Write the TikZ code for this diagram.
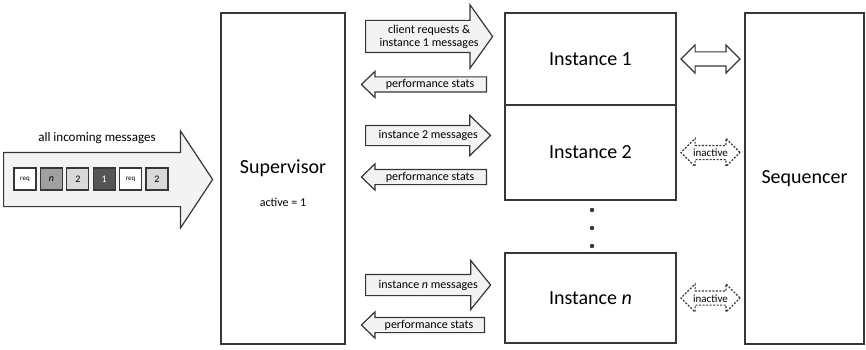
\documentclass[tikz,border=0pt]{standalone}
\usepackage{fontspec}
\setmainfont{Carlito}
\usetikzlibrary{shapes.arrows, positioning, calc}
\definecolor{edge}{RGB}{55,55,55}
\definecolor{arrfill}{RGB}{243,243,243}
\definecolor{msglight}{RGB}{217,217,217}
\definecolor{msgmid}{RGB}{160,160,160}
\definecolor{msgdark}{RGB}{85,85,85}

\begin{document}
\begin{tikzpicture}[x=1pt,y=-1pt,
  box/.style={rectangle,draw=edge,line width=1.3pt,inner sep=0pt},
  big/.style={font=\fontsize{20}{24}\selectfont},
  small/.style={font=\fontsize{12}{13}\selectfont,align=center,inner sep=0pt},
  blk/.style={single arrow,draw=edge,fill=arrfill,line width=1.2pt,inner xsep=0pt,anchor=tail},
  blkl/.style={blk,shape border rotate=180},
  dbl/.style={double arrow,draw=edge,fill=white,line width=1.1pt,inner xsep=0pt,
              inner ysep=2.5pt,text height=8pt,text depth=0pt,
              minimum height=59pt,double arrow head extend=7pt,
              font=\fontsize{11}{11}\selectfont},
  idle/.style={dbl,dash pattern=on 2pt off 1.5pt},
  msg/.style={rectangle,draw=edge,line width=1.2pt,minimum size=22pt,inner sep=0pt,
              font=\fontsize{10}{10}\selectfont},
  mreq/.style={fill=white,font=\fontsize{7}{7}\selectfont},
  mmid/.style={fill=msgmid},
  mlight/.style={fill=msglight},
  mdark/.style={fill=msgdark,text=white},
  dot/.style={circle,fill=edge,inner sep=0pt,minimum size=4.5pt}
]
\useasboundingbox (0,0) rectangle (866,350);

% main blocks
\node[box,minimum width=124pt,minimum height=331pt] (sup) at (283,178.5) {};
\node[big] (suplbl) at (283,168) {Supervisor};
\node[small] (act) at (283,202) {active = 1};
\node[box,big,minimum width=171pt,minimum height=92pt] (inst1) at (590.5,59) {Instance 1};
\node[box,big,minimum width=171pt,minimum height=95pt] (inst2) at (590.5,152.5) {Instance 2};
\node[box,big,minimum width=171pt,minimum height=90pt] (instn) at (590.5,298) {Instance \textit{n}};
\node[box,big,minimum width=119pt,minimum height=331pt] (seq) at (804.5,178.5) {Sequencer};
\foreach \y [count=\i] in {210,228,246}
  \node[dot] (dot\i) at (592,\y) {};

% incoming queue
\node[blk,minimum height=209pt,inner ysep=26.5pt,single arrow head extend=21.5pt,
      single arrow tip angle=113] (inarr) at (3,179.5) {};
\node[font=\fontsize{13}{13}\selectfont] (inlbl) at (97,138) {all incoming messages};
\foreach \sty/\txt [count=\i] in {mreq/req,mmid/\textit{n},mlight/2,mdark/1,mreq/req,mlight/2}
  \node[msg,\sty] (m\i) at ({25+(\i-1)*26.4},179) {\txt};

% supervisor <-> instances
\node[blk,minimum height=127pt,inner ysep=15.5pt,single arrow head extend=15.5pt,
      single arrow tip angle=109] (req1) at (365,36.5) {};
\node[small] at ($(req1.tail)!.5!(req1.tip)$) {client requests \&\\instance 1 messages};
\node[blkl,minimum height=125pt,inner ysep=7pt,single arrow head extend=5.5pt,
      single arrow tip angle=88] (perf1) at (487,84.5) {};
\node[small] at ($(perf1.tail)!.45!(perf1.tip)$) {performance stats};

\node[blk,minimum height=125pt,inner ysep=9.5pt,single arrow head extend=10pt,
      single arrow tip angle=88] (req2) at (365,135.5) {};
\node[small] at ($(req2.tail)!.5!(req2.tip)$) {instance 2 messages};
\node[blkl,minimum height=125pt,inner ysep=7pt,single arrow head extend=5.5pt,
      single arrow tip angle=88] (perf2) at (487,177) {};
\node[small] at ($(perf2.tail)!.45!(perf2.tip)$) {performance stats};

\node[blk,minimum height=125pt,inner ysep=10pt,single arrow head extend=14pt,
      single arrow tip angle=102] (reqn) at (365,285) {};
\node[small] at ($(reqn.tail)!.5!(reqn.tip)$) {instance \textit{n} messages};
\node[blkl,minimum height=123pt,inner ysep=7pt,single arrow head extend=5.5pt,
      single arrow tip angle=88] (perfn) at (485,325) {};
\node[small] at ($(perfn.tail)!.45!(perfn.tip)$) {performance stats};

% instances <-> sequencer
\node[dbl] (link1) at ($(inst1.east)!.5!(seq.west |- inst1.east)$) {};
\node[idle] (link2) at ($(inst2.east)!.5!(seq.west |- inst2.east)$) {inactive};
\node[idle] (linkn) at ($(instn.east)!.5!(seq.west |- instn.east)$) {inactive};
\end{tikzpicture}
\end{document}
